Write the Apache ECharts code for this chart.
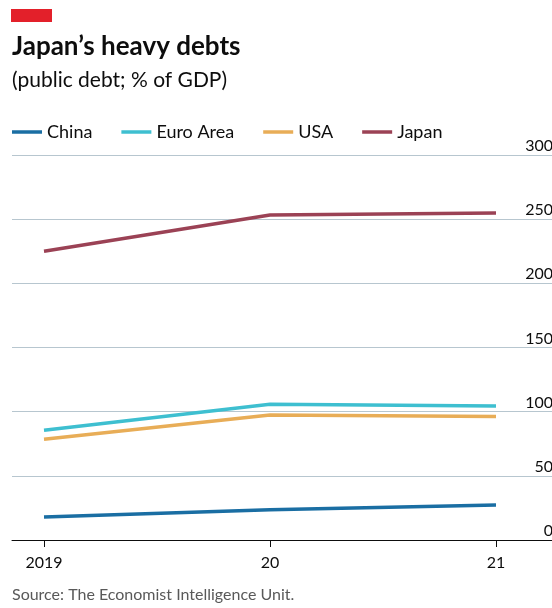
<!DOCTYPE html>
<html>
<head>
<meta charset="utf-8">
<script src="https://cdn.jsdelivr.net/npm/echarts@6/dist/echarts.min.js"></script>
<style>
  html, body { margin: 0; padding: 0; background: #fff; }
  #chart { width: 552px; height: 608px; }
</style>
</head>
<body>
<div id="chart"></div>
<script>
// years on the x axis
const years = ['2019', '20', '21'];
// public debt, % of GDP
const china = [18, 23.5, 27.3];
const euroArea = [85.5, 105.8, 104.5];
const usa = [78.5, 97.4, 96.3];
const japan = [225, 253.3, 254.8];
const yTicks = [0, 50, 100, 150, 200, 250, 300];

const font = 'Lato, "Noto Sans", sans-serif';

function pts(arr) {
  return arr.map(function (v, i) { return [i, v]; });
}

function line(name, values, color) {
  return {
    name: name,
    type: 'line',
    symbol: 'none',
    data: pts(values),
    lineStyle: { color: color, width: 3.5, cap: 'butt' },
    itemStyle: { color: color },
    emphasis: { disabled: true }
  };
}

const myChart = echarts.init(document.getElementById('chart'));

const option = {
  animation: false,
  backgroundColor: '#ffffff',
  textStyle: { fontFamily: font },
  title: {
    left: 12,
    top: 34,
    padding: 0,
    text: 'Japan’s heavy debts',
    subtext: '(public debt; % of GDP)',
    itemGap: 10,
    textStyle: { fontFamily: font, fontSize: 26, fontWeight: 'bold', color: '#0d0d0d' },
    subtextStyle: { fontFamily: font, fontSize: 21, color: '#0d0d0d' }
  },
  legend: {
    left: 12,
    top: 123,
    padding: 0,
    icon: 'rect',
    itemWidth: 30,
    itemHeight: 3.5,
    itemGap: 29,
    textStyle: { fontFamily: font, fontSize: 18, color: '#0d0d0d' },
    data: ['China', 'Euro Area', 'USA', 'Japan']
  },
  grid: { left: 12, right: 0, top: 155, bottom: 68, outerBoundsMode: 'none', containLabel: false },
  xAxis: {
    type: 'value',
    min: -32 / 226,
    max: 508 / 226,
    splitLine: { show: false },
    axisLine: { show: true, onZero: false, lineStyle: { color: '#0d0d0d', width: 1 } },
    axisTick: { show: true, length: 7, customValues: [0, 1, 2], lineStyle: { color: '#0d0d0d' } },
    axisLabel: {
      customValues: [0, 1, 2],
      margin: 15,
      fontSize: 16,
      color: '#0d0d0d',
      fontFamily: font,
      formatter: function (v) { return years[Math.round(v)]; }
    }
  },
  yAxis: {
    type: 'value',
    position: 'right',
    min: yTicks[0],
    max: yTicks[yTicks.length - 1],
    interval: 50,
    axisLine: { show: false },
    axisTick: { show: false },
    splitLine: { lineStyle: { color: '#b7c6cf', width: 1 } },
    axisLabel: {
      inside: true,
      margin: -1,
      verticalAlign: 'bottom',
      lineHeight: 18,
      fontSize: 16,
      color: '#0d0d0d',
      fontFamily: font
    }
  },
  graphic: [
    { type: 'rect', left: 11, top: 9, shape: { width: 41, height: 13 }, style: { fill: '#e3202a' } },
    {
      type: 'text', left: 12, top: 587,
      style: { text: 'Source: The Economist Intelligence Unit.', fill: '#595959', font: '16px ' + font }
    }
  ],
  series: [
    line('China', china, '#1a6ea3'),
    line('Euro Area', euroArea, '#3ebfd0'),
    line('USA', usa, '#e8ad57'),
    line('Japan', japan, '#9b4255')
  ]
};

myChart.setOption(option);
</script>
</body>
</html>
